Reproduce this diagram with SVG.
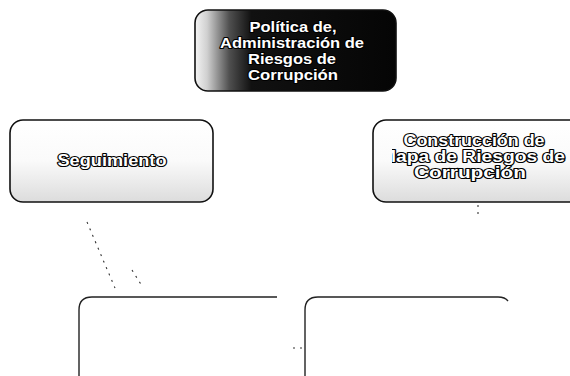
<svg xmlns="http://www.w3.org/2000/svg" width="570" height="376" viewBox="0 0 570 376">
  <defs>
    <linearGradient id="topFill" x1="0" y1="0" x2="1" y2="0">
      <stop offset="0" stop-color="#f4f4f4"/>
      <stop offset="0.06" stop-color="#d0d0d0"/>
      <stop offset="0.17" stop-color="#505050"/>
      <stop offset="0.28" stop-color="#111"/>
      <stop offset="1" stop-color="#050505"/>
    </linearGradient>
    <linearGradient id="sideFill" x1="0" y1="0" x2="0" y2="1">
      <stop offset="0" stop-color="#ffffff"/>
      <stop offset="0.5" stop-color="#fafafa"/>
      <stop offset="1" stop-color="#dcdcdc"/>
    </linearGradient>
    <clipPath id="rightClip">
      <rect x="392" y="100" width="190" height="110"/>
    </clipPath>
  </defs>
  <style>
    .box { stroke: #111; stroke-width: 1.6; }
    .open { fill: none; stroke: #222; stroke-width: 1.4; }
    .lbl { font-family: "Liberation Sans", Arial, sans-serif; font-weight: bold; fill: #fff; stroke: #000; stroke-width: 2.2; paint-order: stroke; stroke-linejoin: round; text-anchor: middle; }
    .t15 { font-size: 15px; }
    .t16 { font-size: 16px; }
    .conn { fill: none; stroke: #333; stroke-width: 1.1; stroke-dasharray: 2 5; }
  </style>
  <rect width="570" height="376" fill="#fff"/>

  <g id="connectors">
    <path class="conn" d="M87,222 L115,288"/>
    <path class="conn" d="M132,270 L142,286"/>
    <path class="conn" d="M478,205 L478,214"/>
    <path class="conn" d="M293,348 L303,348" stroke-dasharray="4 2"/>
  </g>

  <g id="node-politica">
    <rect class="box" x="195" y="10" width="201" height="81" rx="13" fill="url(#topFill)"/>
    <text class="lbl t15" x="293" y="32" textLength="87" lengthAdjust="spacingAndGlyphs">Política de,</text>
    <text class="lbl t15" x="292" y="48" textLength="144" lengthAdjust="spacingAndGlyphs">Administración de</text>
    <text class="lbl t15" x="292" y="64" textLength="88" lengthAdjust="spacingAndGlyphs">Riesgos de</text>
    <text class="lbl t15" x="293" y="80" textLength="90" lengthAdjust="spacingAndGlyphs">Corrupción</text>
  </g>

  <g id="node-seguimiento">
    <rect class="box" x="10" y="120" width="203" height="82" rx="13" fill="url(#sideFill)"/>
    <text class="lbl t16" x="112" y="166" textLength="109" lengthAdjust="spacingAndGlyphs">Seguimiento</text>
  </g>

  <g id="node-construccion">
    <rect class="box" x="373" y="120" width="210" height="82" rx="13" fill="url(#sideFill)"/>
    <text class="lbl t16" x="474" y="146" textLength="141" lengthAdjust="spacingAndGlyphs">Construcción de</text>
    <text class="lbl t16" x="380" y="162" textLength="185" lengthAdjust="spacingAndGlyphs" style="text-anchor:start" clip-path="url(#rightClip)">Mapa de Riesgos de</text>
    <text class="lbl t16" x="470" y="178" textLength="112" lengthAdjust="spacingAndGlyphs">Corrupción</text>
  </g>

  <g id="node-bottom-left">
    <path class="open" d="M79,380 V310 Q79,297 92,297 H277"/>
  </g>

  <g id="node-bottom-right">
    <path class="open" d="M305,380 V310 Q305,297 318,297 H498 Q505,297 508,301"/>
  </g>
</svg>
